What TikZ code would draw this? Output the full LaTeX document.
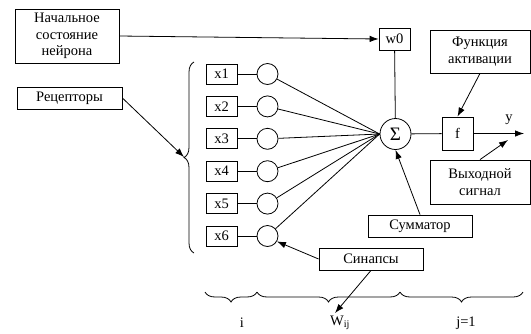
\documentclass[tikz,border=0pt]{standalone}
\usepackage{fontspec}
\setmainfont{Liberation Serif}
\usetikzlibrary{arrows.meta,decorations.pathreplacing}

\begin{document}
\begin{tikzpicture}[x=1pt,y=-1pt,line width=0.8pt,
    font=\fontsize{14.5}{16.5}\selectfont,
    box/.style={shape=rectangle,draw,inner sep=0pt,align=center},
    xbox/.style={box,minimum width=31pt,minimum height=20pt},
    syn/.style={shape=circle,draw,minimum size=21pt,inner sep=0pt},
    arr/.style={-{Latex[length=9pt,width=6.5pt]}},
    brc/.style={decorate,decoration={brace,amplitude=10pt}}]%
                \useasboundingbox (0,0) rectangle (531,333);

                \node[box,minimum width=104pt,minimum height=54pt] (N) at (67,36) {Начальное\\состояние\\нейрона};
                \node[box,minimum width=105pt,minimum height=22pt] (R) at (69.5,98) {Рецепторы};

                \node[xbox] (x1) at (221.5,74) {x1};
                \node[xbox] (x2) at (221.5,106.4) {x2};
                \node[xbox] (x3) at (221.5,138.8) {x3};
                \node[xbox] (x4) at (221.5,171.2) {x4};
                \node[xbox] (x5) at (221.5,203.6) {x5};
                \node[xbox] (x6) at (221.5,236) {x6};

                \node[syn] (c1) at (267.5,74) {};
                \node[syn] (c2) at (267.5,106.4) {};
                \node[syn] (c3) at (267.5,138.8) {};
                \node[syn] (c4) at (267.5,171.2) {};
                \node[syn] (c5) at (267.5,203.6) {};
                \node[syn] (c6) at (267.5,236) {};

                \node[shape=circle,draw,minimum size=31pt,inner sep=0pt,font=\fontsize{19}{19}\selectfont] (S) at (395.5,134) {Σ};
                \node[box,minimum width=31pt,minimum height=22pt] (W) at (394.5,39) {w0};
                \node[box,minimum width=31pt,minimum height=33pt] (F) at (457.5,133.5) {f};
                \node (Y) at (509,120) {y};
                \coordinate (Yend) at (524,133.5);

                \node[box,minimum width=100pt,minimum height=43pt] (FA) at (480,51.5) {Функция\\активации};
                \node[box,minimum width=100pt,minimum height=44pt] (VS) at (480,182) {Выходной\\сигнал};
                \node[box,minimum width=104pt,minimum height=22pt] (SM) at (420,226) {Сумматор};
                \node[box,minimum width=104pt,minimum height=22pt] (SY) at (371,259) {Синапсы};

                % braces
                \draw[brc] (194,253) -- (194,62);
                \coordinate (Rtip) at (184,157);
                \draw[brc] (257,292) -- (205,292);
                \draw[brc] (400,292) -- (257,292);
                \draw[brc] (523,292) -- (400,292);
                \node (I) at (242,323) {i};
                \node (Wij) at (340,323) {W\textsubscript{ij}};
                \node (J) at (466,323) {j=1};
                \coordinate (Wtip) at (335,313);
                \coordinate (Ytip) at (508,140);

                \path [-] (x1) edge (c1);
                \path [-] (x2) edge (c2);
                \path [-] (x3) edge (c3);
                \path [-] (x4) edge (c4);
                \path [-] (x5) edge (c5);
                \path [-] (x6) edge (c6);

                \path [-] (c1) edge (S.west);
                \path [-] (c2) edge (S.west);
                \path [-] (c3) edge (S.west);
                \path [-] (c4) edge (S.west);
                \path [-] (c5) edge (S.west);
                \path [-] (c6) edge (S.west);

                \path [-] (W) edge (S);
                \path [-] (S) edge (F);
                \path [arr] (F) edge (Yend);

                \path [arr] (N.east) edge (W.west);
                \path [arr] (R.east) edge (Rtip);
                \path [arr] (FA.south) edge (F.north);
                \path [arr] (VS.north) edge (Ytip);
                \path [arr] (SM.north) edge (S.south);
                \path [arr] (SY.west) edge (c6.-30);
                \path [arr] (SY.south) edge (Wtip);
            \end{tikzpicture}
\end{document}
